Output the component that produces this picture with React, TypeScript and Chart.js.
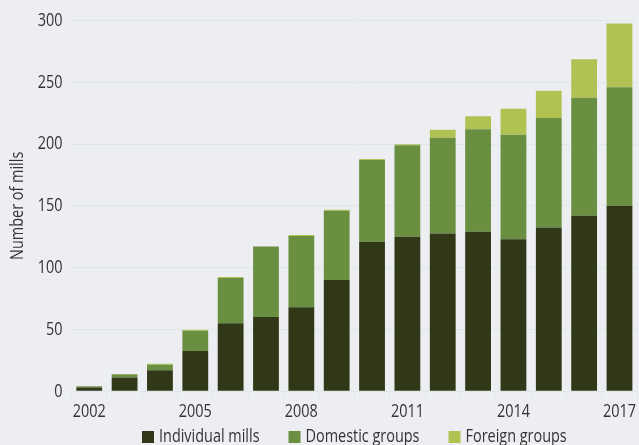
import React, { useEffect, useRef } from "react";
import { Chart, registerables } from "chart.js";

Chart.register(...registerables);

const years = ["2002","2003","2004","2005","2006","2007","2008","2009","2010","2011","2012","2013","2014","2015","2016","2017"];
const labeledYears = ["2002","2005","2008","2011","2014","2017"];
const individualMills = [3, 11, 17, 32.5, 55, 60, 68, 90, 121, 125, 127.5, 129, 123, 132.5, 142, 150];
const domesticGroups = [1, 2.5, 4.4, 16.5, 36.6, 57, 57.5, 56, 66, 74, 77.5, 83, 84.5, 88.5, 95.5, 96];
const foreignGroups = [0, 0.5, 0.8, 0.8, 0.8, 0, 0.8, 0.8, 0.8, 0.8, 6.5, 10.5, 21, 22, 31, 51.5];
const yTicks = [0, 50, 100, 150, 200, 250, 300];
const seriesNames = ["Individual mills", "Domestic groups", "Foreign groups"];
const seriesColors = ["#313818", "#6a8f40", "#b1c152"];

const FONT = "'Open Sans', sans-serif";
const SIZE = 19;
const SQUEEZE = 0.76;
const BG = "#eceef1";
const GRID = "#dfe8e7";
const TEXT = "#333333";

const bottomLegend = {
  id: "bottomLegend",
  afterDraw(chart: any) {
    const { ctx, chartArea } = chart;
    const box = 12, gapText = 5, gapItem = 29;
    ctx.save();
    ctx.font = `${SIZE}px ${FONT}`;
    ctx.textBaseline = "middle";
    ctx.textAlign = "left";
    const items = chart.data.datasets.map((d: any) => ({ label: d.label, color: d.backgroundColor }));
    const widths = items.map((it: any) => ctx.measureText(it.label).width);
    const total = widths.reduce((a: number, w: number) => a + box + gapText + w, 0) + gapItem * (items.length - 1);
    let x = (chartArea.left + chartArea.right) / 2 - total / 2;
    const y = chart.height - 8;
    items.forEach((it: any, i: number) => {
      ctx.fillStyle = it.color;
      ctx.fillRect(x, y - box / 2, box, box);
      x += box + gapText;
      ctx.fillStyle = TEXT;
      ctx.fillText(it.label, x, y);
      x += widths[i] + gapItem;
    });
    ctx.restore();
  },
};

export default function App() {
  const ref = useRef<HTMLCanvasElement | null>(null);
  useEffect(() => {
    document.body.style.margin = "0";
    document.body.style.background = BG;
    const canvas = ref.current!;
    const ctx: any = canvas.getContext("2d");
    const om = ctx.measureText.bind(ctx);
    const of = ctx.fillText.bind(ctx);
    ctx.measureText = (t: string) => {
      const m = om(t);
      return {
        width: m.width * SQUEEZE,
        actualBoundingBoxAscent: m.actualBoundingBoxAscent,
        actualBoundingBoxDescent: m.actualBoundingBoxDescent,
        actualBoundingBoxLeft: m.actualBoundingBoxLeft * SQUEEZE,
        actualBoundingBoxRight: m.actualBoundingBoxRight * SQUEEZE,
      };
    };
    ctx.fillText = (t: string, x: number, y: number, mw?: number) => {
      const w = om(String(t)).width * SQUEEZE;
      of(t, x, y, mw !== undefined ? Math.min(mw, w) : w);
    };
    const chart = new Chart(canvas, {
      type: "bar",
      data: {
        labels: years,
        datasets: [
          { label: seriesNames[0], data: individualMills, backgroundColor: seriesColors[0] },
          { label: seriesNames[1], data: domesticGroups, backgroundColor: seriesColors[1] },
          { label: seriesNames[2], data: foreignGroups, backgroundColor: seriesColors[2] },
        ],
      },
      plugins: [bottomLegend],
      options: {
        responsive: false,
        animation: false,
        layout: { padding: { top: 17, left: 0, right: 0, bottom: 19 } },
        datasets: { bar: { barPercentage: 0.73, categoryPercentage: 1 } },
        plugins: {
          tooltip: { enabled: false },
          legend: { display: false },
        },
        scales: {
          x: {
            stacked: true,
            grid: { offset: true, drawOnChartArea: false, drawTicks: true, tickLength: 6, color: GRID },
            border: { display: true, color: GRID },
            ticks: {
              autoSkip: false,
              maxRotation: 0,
              padding: 3,
              color: TEXT,
              font: { family: FONT, size: SIZE },
              callback: (_v: any, i: number) => (labeledYears.includes(years[i]) ? years[i] : ""),
            },
          },
          y: {
            stacked: true,
            min: yTicks[0],
            max: yTicks[yTicks.length - 1],
            afterBuildTicks: (axis: any) => { axis.ticks = yTicks.map((v) => ({ value: v })); },
            grid: { drawTicks: false, color: GRID, lineWidth: 1 },
            border: { display: false },
            ticks: { padding: 9, color: TEXT, font: { family: FONT, size: SIZE } },
            title: { display: true, text: "Number of mills", color: TEXT, font: { family: FONT, size: SIZE }, padding: { top: 6, bottom: 0 } },
          },
        },
      },
    });
    return () => chart.destroy();
  }, []);
  return <canvas ref={ref} width={639} height={445} style={{ display: "block", background: BG }} />;
}
